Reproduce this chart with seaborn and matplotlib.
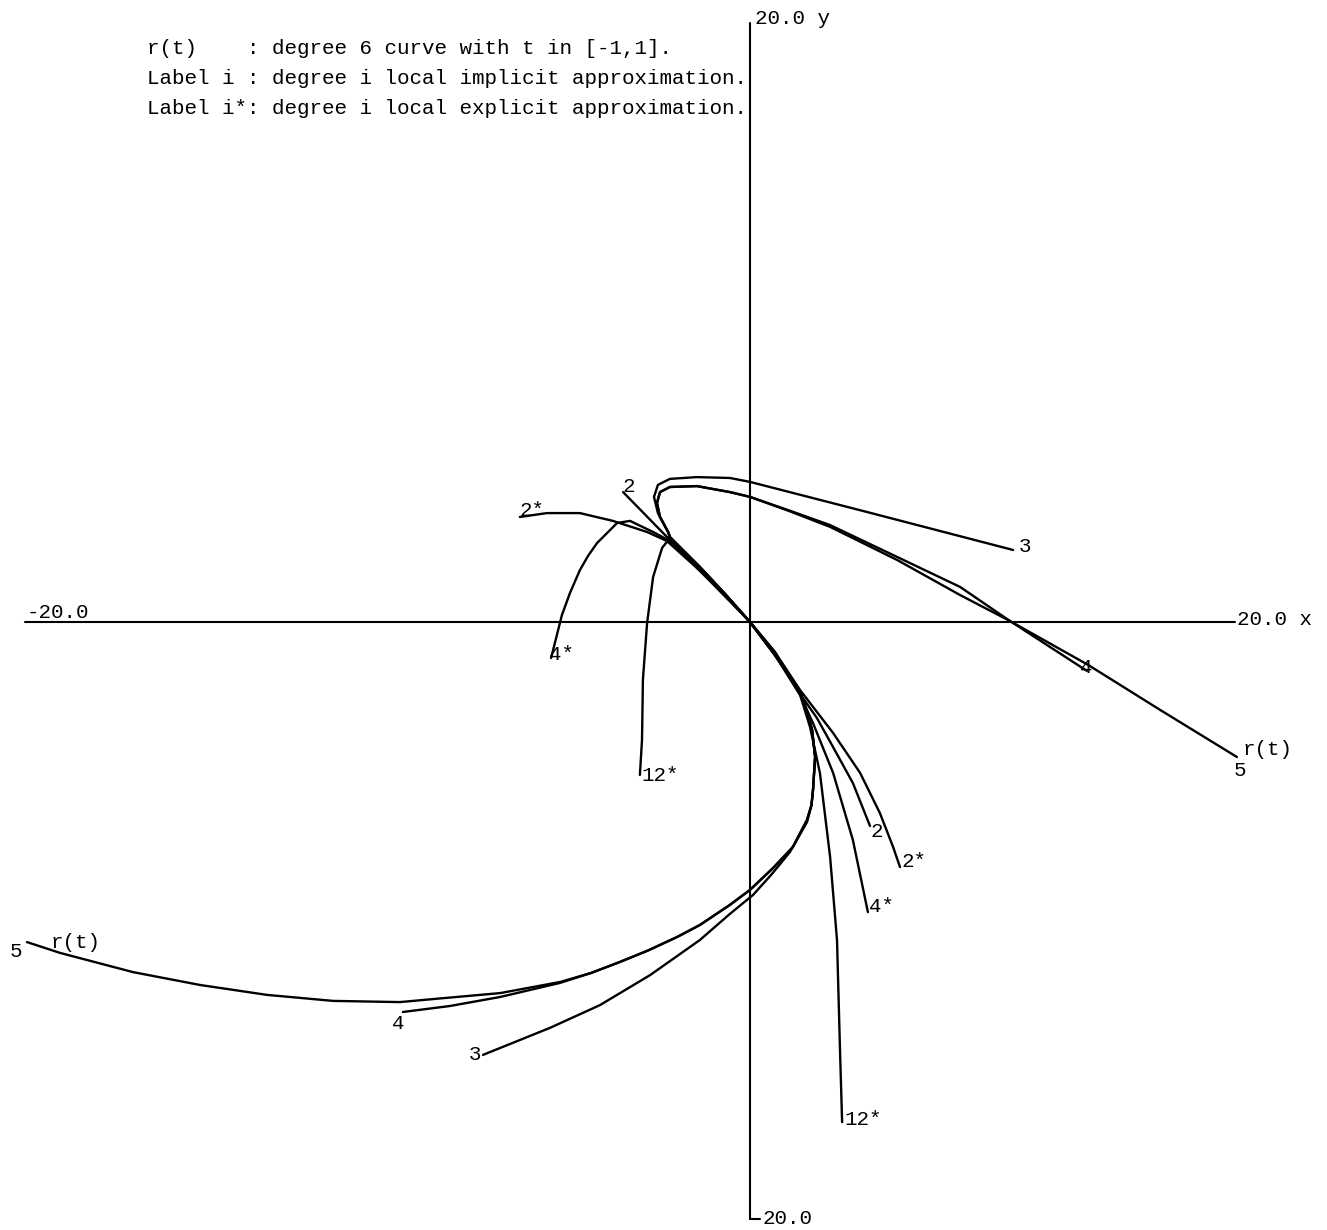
import matplotlib
matplotlib.use("Agg")
import matplotlib.pyplot as plt
import numpy as np
import pandas as pd
import seaborn as sns

# ---- curve data (x, y) ----
rt_x = [-24.10, -23.00, -20.57, -18.33, -16.10, -13.90, -11.67, -10.57, -8.33, -6.33,
        -5.30, -4.33, -3.40, -2.43, -1.67, -0.67, 0.00, 0.77, 1.43, 1.90, 2.05,
        2.10, 2.17, 2.07, 1.90, 1.67, 0.83, 0.00, -0.83, -1.67, -2.67, -2.73, -3.00,
        -3.10, -3.00, -2.67, -1.77, -0.67, 0.00, 1.30, 2.67, 4.90, 7.00, 8.67,
        11.27, 13.67, 16.23]
rt_y = [-10.67, -11.03, -11.67, -12.10, -12.43, -12.63, -12.67, -12.57, -12.37, -12.00,
        -11.70, -11.33, -10.95, -10.50, -10.10, -9.43, -8.93, -8.20, -7.50, -6.60, -6.10,
        -5.60, -4.50, -3.60, -3.00, -2.33, -1.10, 0.00, 0.93, 1.83, 2.83, 3.00, 3.50,
        3.97, 4.33, 4.50, 4.53, 4.33, 4.17, 3.70, 3.17, 2.07, 0.90, 0.03,
        -1.43, -2.93, -4.50]

d4_x = [-11.57, -10.00, -8.33, -6.33, -5.30, -4.33, -3.40, -2.43, -1.67, -0.67, 0.00,
        0.77, 1.43, 1.90, 2.05, 2.10, 2.17, 2.07, 1.90, 1.67, 0.83, 0.00, -0.83,
        -1.67, -2.67, -2.73, -3.00, -3.10, -3.00, -2.67, -1.77, -0.67, 0.00,
        1.30, 2.67, 4.90, 7.00, 8.67, 11.23]
d4_y = [-13.00, -12.80, -12.50, -12.03, -11.70, -11.33, -10.95, -10.50, -10.10, -9.43, -8.93,
        -8.20, -7.50, -6.60, -6.10, -5.60, -4.50, -3.60, -3.00, -2.33, -1.10, 0.00, 0.93,
        1.83, 2.83, 3.00, 3.50, 3.97, 4.33, 4.50, 4.53, 4.33, 4.17,
        3.72, 3.23, 2.17, 1.17, 0.03, -1.63]

d3_x = [-8.90, -6.67, -5.00, -3.33, -1.67, -0.67, 0.10, 0.73, 1.33, 1.90, 2.05,
        2.10, 2.17, 2.07, 1.90, 1.67, 0.83, 0.00, -0.83, -1.67, -2.67,
        -2.73, -3.07, -3.20, -3.07, -2.67, -1.77, -0.67, 0.00, 3.77, 8.77]
d3_y = [-14.43, -13.53, -12.77, -11.77, -10.60, -9.73, -9.10, -8.40, -7.67, -6.67, -6.10,
        -5.60, -4.50, -3.60, -3.00, -2.33, -1.10, 0.00, 0.93, 1.83, 2.83,
        3.00, 3.63, 4.17, 4.57, 4.77, 4.83, 4.80, 4.67, 3.70, 2.40]

d2_x = [-4.23, 0.00, 0.83, 1.67, 2.23, 2.77, 3.43, 4.00]
d2_y = [4.33, 0.00, -1.00, -2.40, -3.20, -4.17, -5.37, -6.80]

e2_x = [-7.67, -6.77, -5.67, -4.57, -3.43, -2.77, -1.77, -0.83, 0.00, 0.83,
        1.67, 2.77, 3.67, 4.33, 4.77, 5.00]
e2_y = [3.50, 3.63, 3.63, 3.37, 3.00, 2.70, 1.80, 0.90, 0.00, -1.00,
        -2.27, -3.70, -5.03, -6.37, -7.50, -8.17]

e4_x = [-6.63, -6.27, -6.00, -5.67, -5.40, -5.10, -4.43, -4.00, -3.23, -2.67, -1.67,
        -0.83, 0.00, 0.83, 1.67, 2.10, 2.77, 3.43, 3.93]
e4_y = [-1.20, 0.23, 0.97, 1.73, 2.20, 2.63, 3.30, 3.37, 3.00, 2.70, 1.80,
        0.90, 0.00, -1.07, -2.43, -3.37, -5.03, -7.27, -9.67]

e12_x = [-3.67, -3.60, -3.57, -3.43, -3.23, -2.93, -2.67, -1.67, -0.83, 0.00,
         0.83, 1.67, 2.00, 2.33, 2.67, 2.90, 3.00, 3.07]
e12_y = [-5.10, -3.93, -1.93, -0.03, 1.50, 2.47, 2.80, 1.83, 0.93, 0.00,
         -1.10, -2.43, -3.50, -5.03, -7.83, -10.60, -14.27, -16.67]

# ---- curve labels ----
label_text = ["2", "2*", "4*", "12*", "3", "4", "r(t)", "5",
              "2", "2*", "4*", "12*", "5", "r(t)", "4", "3"]
label_x = [-4.03, -7.27, -6.30, -3.00, 9.17, 11.20, 17.25, 16.33,
           4.23, 5.47, 4.37, 3.77, -24.47, -22.47, -11.73, -9.17]
label_y = [4.50, 3.70, -1.07, -5.13, 2.53, -1.53, -4.25, -4.95,
           -7.00, -8.00, -9.50, -16.57, -11.00, -10.67, -13.37, -14.43]

header = ["r(t)    : degree 6 curve with t in [-1,1].",
          "Label i : degree i local implicit approximation.",
          "Label i*: degree i local explicit approximation."]

sns.set_theme(style="white")
plt.rcParams["font.family"] = ["Liberation Mono", "DejaVu Sans Mono"]

fig = plt.figure(figsize=(13.27, 12.30), dpi=100)
ax = fig.add_axes([0, 0, 1, 1])
ax.set_xlim(-25.0, 19.233)
ax.set_ylim(-20.267, 20.733)
ax.set_axis_off()

# coordinate axes
ax.plot([-24.17, 16.17], [0, 0], color="black", lw=1.5)
ax.plot([0, 0], [-19.9, 19.97], color="black", lw=1.5)
ax.plot([0, 0.33], [-19.9, -19.9], color="black", lw=1.5)

curves = [(rt_x, rt_y), (d4_x, d4_y), (d3_x, d3_y), (d2_x, d2_y),
          (e2_x, e2_y), (e4_x, e4_y), (e12_x, e12_y)]
for cx, cy in curves:
    df = pd.DataFrame({"x": cx, "y": cy})
    sns.lineplot(data=df, x="x", y="y", sort=False, estimator=None,
                 color="black", lw=1.7, ax=ax)

fs = 15
for t, x, y in zip(label_text, label_x, label_y):
    ax.text(x, y, t, fontsize=fs, ha="center", va="center", color="black")

# axis end labels
ax.text(0.17, 20.13, "20.0 y", fontsize=fs, ha="left", va="center", color="black")
ax.text(0.40, -19.87, "20.0", fontsize=fs, ha="left", va="center", color="black")
ax.text(-24.10, 0.30, "-20.0", fontsize=fs, ha="left", va="center", color="black")
ax.text(16.23, 0.07, "20.0 x", fontsize=fs, ha="left", va="center", color="black")

for i, line in enumerate(header):
    ax.text(-20.1, 19.13 - i * 1.0, line, fontsize=fs, ha="left", va="center",
            color="black")

fig.savefig("out.png", dpi=100, facecolor="white")
